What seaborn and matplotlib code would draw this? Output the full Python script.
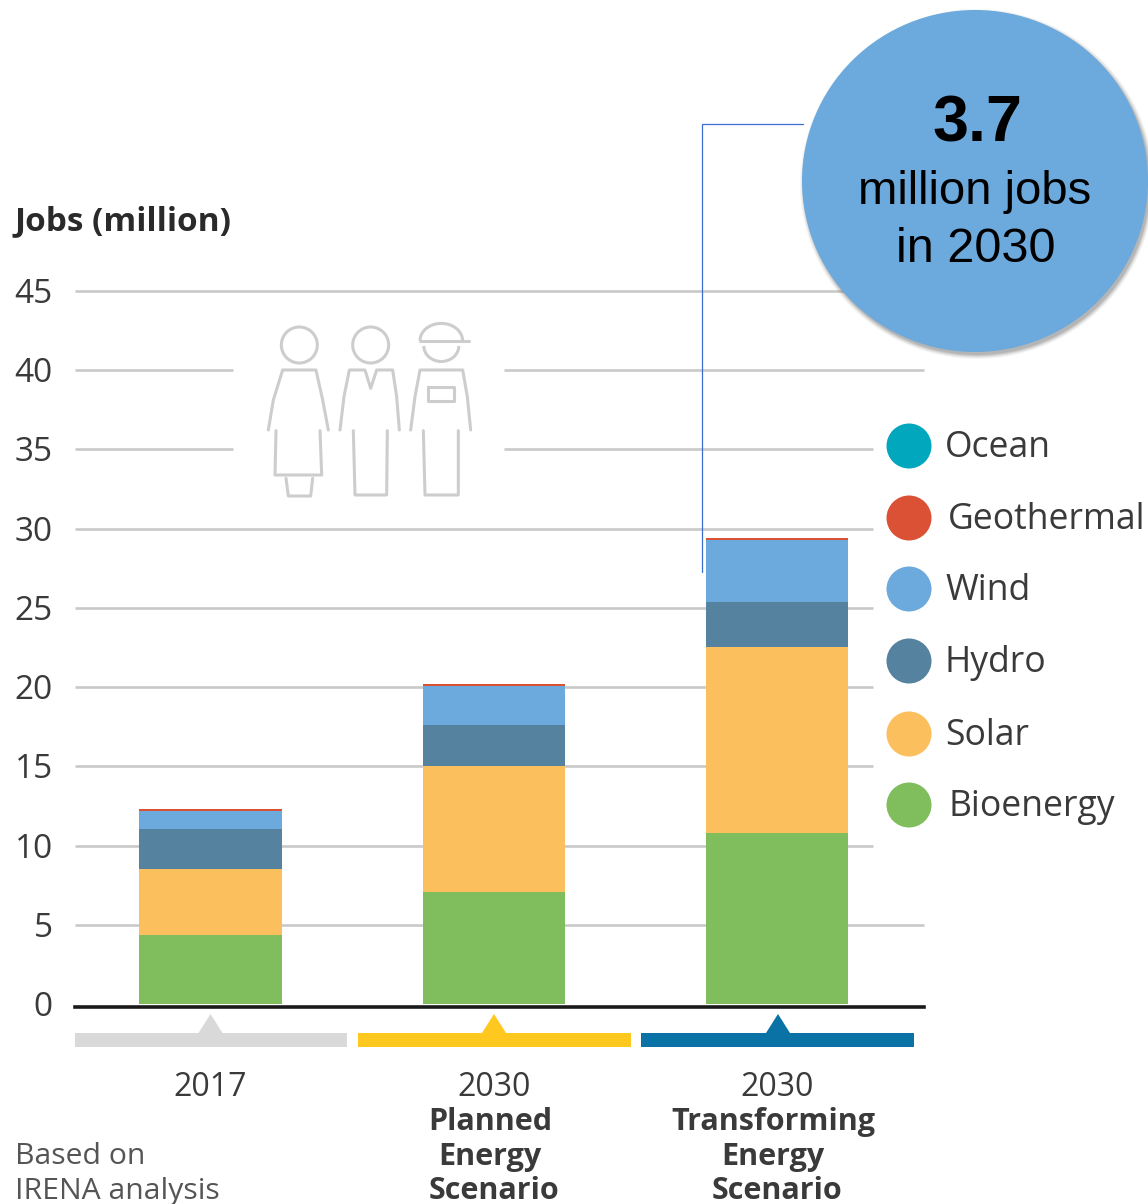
import numpy as np
import pandas as pd
import seaborn as sns
import matplotlib
matplotlib.use("Agg")
import matplotlib.pyplot as plt
from matplotlib.patches import Arc, Circle, Ellipse, Polygon
from matplotlib.transforms import ScaledTranslation, blended_transform_factory

# Employment by technology, million jobs
scenarios = ["2017", "2030 Planned Energy Scenario", "2030 Transforming Energy Scenario"]
bioenergy = [4.35, 7.05, 10.8]
solar = [4.2, 7.95, 11.75]
hydro = [2.5, 2.6, 2.85]
wind = [1.1, 2.45, 3.9]
geothermal = [0.13, 0.12, 0.12]
ocean = [0.0, 0.0, 0.0]

stack_names = ["Bioenergy", "Solar", "Hydro", "Wind", "Geothermal", "Ocean"]
stack_values = [bioenergy, solar, hydro, wind, geothermal, ocean]
stack_colors = ["#7FBD5D", "#FCBF5E", "#55829E", "#6CA9DC", "#DB5136", "#00A7BD"]

y_ticks = [0, 5, 10, 15, 20, 25, 30, 35, 40, 45]
y_label = "Jobs (million)"

legend_names = ["Ocean", "Geothermal", "Wind", "Hydro", "Solar", "Bioenergy"]
legend_colors = ["#00A7BD", "#DB5136", "#6CA9DC", "#55829E", "#FCBF5E", "#7FBD5D"]
legend_rows = [445, 517, 588, 660, 733, 804]
legend_text_x = [945, 948, 945, 945, 945, 948]

W, H = 1148, 1204
GRID = "#C9C9C9"
ICON = "#CDCDCD"
TEXT = "#3A3A3A"
BODY_FONT = "Open Sans"
CALLOUT_FONT = "Liberation Sans"

sns.set_theme(style="white")
plt.rcParams["font.family"] = [BODY_FONT, "DejaVu Sans"]

fig = plt.figure(figsize=(W / 100, H / 100), dpi=100, facecolor="white")

# Plot area, placed in pixel terms on the canvas
left, right, bottom, top = 75, 924, 1004, 291
ax = fig.add_axes([left / W, 1 - bottom / H, (right - left) / W, (bottom - top) / H])
ax.patch.set_alpha(0)

frame = pd.DataFrame({"scenario": scenarios})
base = np.zeros(len(scenarios))
for name, values, color in zip(stack_names, stack_values, stack_colors):
    frame[name] = values
    sns.barplot(data=frame, x="scenario", y=name, color=color, bottom=base,
                width=0.503, saturation=1, ax=ax, linewidth=0, zorder=2)
    base = base + np.array(values)

step = 283.25
ax.set_xlim((left - 210.5) / step, (right - 210.5) / step)
ax.set_ylim(0, 45)
ax.set_xlabel("")
ax.set_ylabel("")
ax.set_xticks([])
ax.set_yticks(y_ticks)
ax.tick_params(axis="y", length=0, pad=16, labelsize=24, labelcolor=TEXT)
nudge = ScaledTranslation(0, 0.5 / 100, fig.dpi_scale_trans)
for tick_label in ax.get_yticklabels():
    tick_label.set_transform(tick_label.get_transform() + nudge)
for side in ("top", "right", "left"):
    ax.spines[side].set_visible(False)
ax.spines["bottom"].set_color("#1A1A1A")
ax.spines["bottom"].set_linewidth(2.6)
ax.spines["bottom"].set_position(("outward", 2.2))

# Canvas-wide layer in pixel coordinates for annotation artwork
over = fig.add_axes([0, 0, 1, 1], zorder=5)
over.set_xlim(0, W)
over.set_ylim(H, 0)
over.axis("off")
over.patch.set_alpha(0)

# Gridlines stop short around the icon group and the legend
grid_tf = blended_transform_factory(over.transData, ax.transData)
grid_spans = {
    5: [(75, 924)], 10: [(75, 873)], 15: [(75, 873)], 20: [(75, 873)], 25: [(75, 873)],
    30: [(75, 873)], 35: [(75, 233), (504, 873)], 40: [(75, 233), (504, 924)], 45: [(75, 924)],
}
for level, spans in grid_spans.items():
    for x0, x1 in spans:
        ax.plot([x0, x1], [level, level], transform=grid_tf, color=GRID, lw=1.9,
                zorder=1, clip_on=False, solid_capstyle="butt")

over.text(15, 222, y_label, fontsize=24, fontweight="bold",
          color="#2A2A2A", va="center", ha="left")

# Scenario strips with pointer notches
strips = [(75, 347, "#D9D9D9", 210.5), (358, 631, "#FFC81E", 494), (641, 914, "#0A72A5", 778)]
for x0, x1, color, mid in strips:
    over.add_patch(Polygon([(x0, 1047), (x0, 1033), (mid - 12, 1033), (mid, 1014), (mid + 12, 1033),
                            (x1, 1033), (x1, 1047)], closed=True, fc=color, ec="none"))

# Category captions
captions = [
    ("2017", 210, 1088, "normal", 23),
    ("2030", 494, 1088, "normal", 23),
    ("Planned", 490, 1122, "bold", 22),
    ("Energy", 490, 1157, "bold", 22),
    ("Scenario", 494, 1191, "bold", 22),
    ("2030", 777, 1088, "normal", 23),
    ("Transforming", 773, 1122, "bold", 22),
    ("Energy", 773, 1157, "bold", 22),
    ("Scenario", 777, 1191, "bold", 22),
]
for label, x, y, weight, size in captions:
    over.text(x, y, label, fontsize=size, fontweight=weight, color=TEXT, ha="center", va="center")

over.text(15, 1156, "Based on", fontsize=21.7, color="#555555", ha="left", va="center")
over.text(15, 1191, "IRENA analysis", fontsize=21.7, color="#555555", ha="left", va="center")

# Legend
for name, color, row, tx in zip(legend_names, legend_colors, legend_rows, legend_text_x):
    over.add_patch(Circle((909, row + 1), 22.5, fc=color, ec="none"))
    over.text(tx, row + 3, name, fontsize=25.6, fontweight="medium", color=TEXT, ha="left", va="center")

# Three-figure workforce icon, outlined in thin grey strokes
def icon_pts(points):
    return [(240 + x / 3, 310 + y / 3) for x, y in points]

ICON_LW = 2.2
icon_lines = [
    [(85, 360), (100, 270), (128, 180), (228, 180), (248, 270), (265, 360)],
    [(108, 362), (105, 495), (245, 495), (240, 362)],
    [(138, 505), (145, 558), (212, 558), (218, 505)],
    [(300, 360), (312, 260), (328, 180), (375, 180), (392, 235), (410, 180), (458, 180), (470, 260), (478, 360)],
    [(340, 362), (345, 555), (440, 555), (442, 362)],
    [(512, 360), (525, 260), (540, 180), (668, 180), (682, 260), (692, 360)],
    [(550, 362), (555, 555), (655, 555), (655, 362)],
    [(565, 230), (642, 230), (642, 273), (565, 273), (565, 230)],
    [(540, 92), (688, 92)],
]
for line in icon_lines:
    xs, ys = zip(*icon_pts(line))
    over.plot(xs, ys, color=ICON, lw=ICON_LW, solid_joinstyle="round")
for cx, cy in [(178, 105), (392, 105)]:
    (px, py), = icon_pts([(cx, cy)])
    over.add_patch(Circle((px, py), 18, fc="none", ec=ICON, lw=ICON_LW))
over.add_patch(Arc((441.3, 346), 35, 31, theta1=0, theta2=180, ec=ICON, lw=ICON_LW))
over.add_patch(Arc((441.3, 340.7), 42.6, 34.6, theta1=180, theta2=360, ec=ICON, lw=ICON_LW))

# Callout with leader line and a soft drop shadow
over.plot([803, 702, 702], [124, 124, 572], color="#3B6FD4", lw=0.9, solid_joinstyle="miter")
for grow, alpha in [(4, 0.05), (3, 0.07), (2, 0.10), (1, 0.13), (0, 0.16)]:
    over.add_patch(Ellipse((977, 184), 346 + 2 * grow, 342 + 2 * grow, fc="#555555", ec="none", alpha=alpha))
over.add_patch(Ellipse((975, 181), 346, 342, fc="#6CA9DC", ec="none"))
over.text(977, 125, "3.7", fontsize=46.5, fontweight="bold", color="black", ha="center",
          va="center", family=CALLOUT_FONT)
over.text(975, 192, "million jobs", fontsize=34, color="black", ha="center", va="center",
          family=CALLOUT_FONT)
over.text(976, 249, "in 2030", fontsize=35, color="black", ha="center", va="center",
          family=CALLOUT_FONT)

fig.savefig("out.png", dpi=100, facecolor="white")
